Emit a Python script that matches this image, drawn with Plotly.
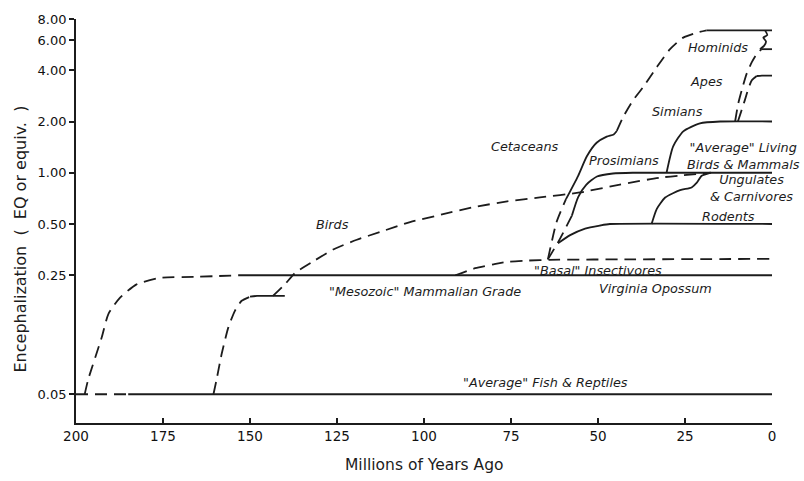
import math
import plotly.graph_objects as go

# ---- axis ticks -------------------------------------------------------------
x_ticks = [200, 175, 150, 125, 100, 75, 50, 25, 0]
y_ticks = [0.05, 0.25, 0.5, 1, 2, 4, 6, 8]
y_tick_text = ["0.05", "0.25", "0.50", "1.00", "2.00", "4.00", "6.00", "8.00"]

# ---- series: (millions of years ago, encephalization) -----------------------
fish_dash_ma = [200, 185]
fish_dash_eq = [0.05, 0.05]
fish_ma = [185, 0]
fish_eq = [0.05, 0.05]

mammal_origin_ma = [197.5, 196.5, 192.6, 190.7, 187.4, 182.6, 175.9, 165, 153.4]
mammal_origin_eq = [0.05, 0.061, 0.108, 0.148, 0.184, 0.221, 0.241, 0.245, 0.25]
mesozoic_ma = [153.4, 0]
mesozoic_eq = [0.25, 0.25]

archaeo_dash_ma = [160.5, 159.6, 158.1, 156.2, 154.3, 152.4, 150]
archaeo_dash_eq = [0.05, 0.061, 0.087, 0.124, 0.155, 0.177, 0.187]
archaeo_ma = [150, 148, 140]
archaeo_eq = [0.187, 0.189, 0.189]

birds_ma = [143.4, 139.9, 137.1, 131.9, 126.1, 119.3, 112.6, 104.0, 94.5,
            85.9, 76.1, 66.7, 55.2, 43.7, 32.2, 17.5]
birds_eq = [0.189, 0.222, 0.257, 0.301, 0.354, 0.404, 0.449, 0.513, 0.571,
            0.627, 0.679, 0.716, 0.766, 0.852, 0.936, 1.0]

basal_ma = [91, 85.3, 80, 76, 70, 64, 40, 0]
basal_eq = [0.25, 0.275, 0.29, 0.30, 0.305, 0.308, 0.31, 0.312]

cetacean_dash1_ma = [64.4, 61.9, 59.2]
cetacean_dash1_eq = [0.31, 0.514, 0.70]
cetacean_ma = [59.2, 55.7, 53.2, 50.4, 47.5, 45.5, 44.6]
cetacean_eq = [0.70, 0.96, 1.25, 1.50, 1.63, 1.68, 1.76]
cetacean_dash2_ma = [44.6, 42.7, 39.9, 37.0, 33.1, 29.3, 25.5, 21.6, 18.8]
cetacean_dash2_eq = [1.76, 2.14, 2.67, 3.19, 4.17, 5.32, 6.22, 6.65, 6.86]
top_ma = [18.8, 0]
top_eq = [6.86, 6.86]

prosimian_dash_ma = [64.4, 60.9, 57.5]
prosimian_dash_eq = [0.31, 0.41, 0.56]
prosimian_ma = [57.5, 55.7, 53.4, 50.3, 45.7, 40, 0]
prosimian_eq = [0.56, 0.72, 0.85, 0.95, 0.99, 1.0, 1.0]

rodent_ma = [61.5, 58.0, 53.7, 49.4, 46.6, 0]
rodent_eq = [0.385, 0.43, 0.47, 0.49, 0.5, 0.5]

ungulate_ma = [34.6, 33.1, 30.7, 26.4, 23.1, 21.6, 20.2, 17.8]
ungulate_eq = [0.5, 0.614, 0.715, 0.79, 0.82, 0.875, 0.96, 1.0]

simian_ma = [30.3, 28.4, 25.5, 20.7, 14.9, 0]
simian_eq = [1.0, 1.43, 1.75, 1.95, 2.0, 2.0]

ape_dash_ma = [9.8, 7.8, 6.8, 5.8, 4.4]
ape_dash_eq = [2.0, 2.67, 3.12, 3.49, 3.70]
ape_ma = [4.4, 2.9, 0]
ape_eq = [3.70, 3.72, 3.72]

hominid_dash_ma = [10.6, 9.7, 8.7, 7.3, 5.8, 4.4, 3.0]
hominid_dash_eq = [2.0, 2.55, 3.05, 3.81, 4.46, 4.98, 5.32]
hominid_ma = [3.0, 0]
hominid_eq = [5.32, 5.32]
hominid_link_ma = [2.0, 1.35, 2.5, 1.72, 2.3, 3.45]
hominid_link_eq = [6.86, 6.44, 6.22, 5.90, 5.56, 5.32]

# ---- labels: text, Ma, EQ ---------------------------------------------------
labels = [
    ("Hominids", 15.5, 5.47),
    ("Apes", 18.7, 3.43),
    ("Simians", 27.3, 2.29),
    ("Cetaceans", 71.0, 1.42),
    ("Prosimians", 42.5, 1.18),
    ("\"Average\" Living<br>Birds &amp; Mammals", 8.2, 1.25),
    ("Ungulates<br>&amp; Carnivores", 6.0, 0.81),
    ("Rodents", 12.6, 0.55),
    ("\"Basal\" Insectivores", 50.0, 0.267),
    ("Virginia Opossum", 33.6, 0.21),
    ("\"Mesozoic\" Mammalian Grade", 99.7, 0.202),
    ("Birds", 126.4, 0.494),
    ("\"Average\" Fish &amp; Reptiles", 65.2, 0.059),
]

INK = "#1c1c1c"
LW = 1.8
DASH = "12px,7px"

segments = [
    (fish_dash_ma, fish_dash_eq, DASH),
    (fish_ma, fish_eq, "solid"),
    (mammal_origin_ma, mammal_origin_eq, DASH),
    (mesozoic_ma, mesozoic_eq, "solid"),
    (archaeo_dash_ma, archaeo_dash_eq, DASH),
    (archaeo_ma, archaeo_eq, "solid"),
    (birds_ma, birds_eq, DASH),
    (basal_ma, basal_eq, DASH),
    (cetacean_dash1_ma, cetacean_dash1_eq, DASH),
    (cetacean_ma, cetacean_eq, "solid"),
    (cetacean_dash2_ma, cetacean_dash2_eq, DASH),
    (top_ma, top_eq, "solid"),
    (prosimian_dash_ma, prosimian_dash_eq, DASH),
    (prosimian_ma, prosimian_eq, "solid"),
    (rodent_ma, rodent_eq, "solid"),
    (ungulate_ma, ungulate_eq, "solid"),
    (simian_ma, simian_eq, "solid"),
    (ape_dash_ma, ape_dash_eq, DASH),
    (ape_ma, ape_eq, "solid"),
    (hominid_dash_ma, hominid_dash_eq, DASH),
    (hominid_ma, hominid_eq, "solid"),
    (hominid_link_ma, hominid_link_eq, "solid"),
]

fig = go.Figure()
for ma, eq, dash in segments:
    fig.add_trace(go.Scatter(
        x=ma, y=eq, mode="lines",
        line=dict(color=INK, width=LW, dash=dash, shape="spline", smoothing=0.6),
        hoverinfo="skip", showlegend=False,
    ))

label_font = dict(family="DejaVu Sans", size=12.8, color=INK, style="italic")
for text, ma, eq in labels:
    fig.add_annotation(x=ma, y=math.log10(eq), text=text, showarrow=False,
                       font=label_font, xanchor="center", yanchor="middle",
                       align="center")

fig.add_annotation(xref="paper", yref="paper", x=-0.08, y=0.455,
                   text="Encephalization  (  EQ or equiv.  )", textangle=-90,
                   showarrow=False, xanchor="center", yanchor="middle",
                   font=dict(family="DejaVu Sans", size=16, color=INK))
fig.add_annotation(xref="paper", yref="paper", x=0.5, y=-0.105,
                   text="Millions of Years Ago", showarrow=False,
                   xanchor="center", yanchor="middle",
                   font=dict(family="DejaVu Sans", size=15.5, color=INK))

fig.update_layout(
    width=804, height=481,
    margin=dict(l=76, r=32, t=14, b=58),
    paper_bgcolor="white", plot_bgcolor="white",
    font=dict(family="DejaVu Sans", color=INK),
)
fig.update_xaxes(
    range=[200, 0], tickvals=x_ticks, ticktext=[str(t) for t in x_ticks],
    ticks="inside", ticklen=5, tickwidth=1.5, tickcolor=INK,
    showline=True, linecolor=INK, linewidth=1.8,
    showgrid=False, zeroline=False,
    tickfont=dict(family="DejaVu Sans", size=13.5, color="#111111"),
)
fig.update_yaxes(
    type="log", range=[math.log10(0.0339), math.log10(8)],
    tickvals=y_ticks, ticktext=y_tick_text,
    ticks="outside", ticklen=5, tickwidth=1.5, tickcolor=INK,
    showline=True, linecolor=INK, linewidth=1.8,
    showgrid=False, zeroline=False,
    tickfont=dict(family="DejaVu Sans", size=13, color="#111111"),
)

fig.write_html("out.html")
